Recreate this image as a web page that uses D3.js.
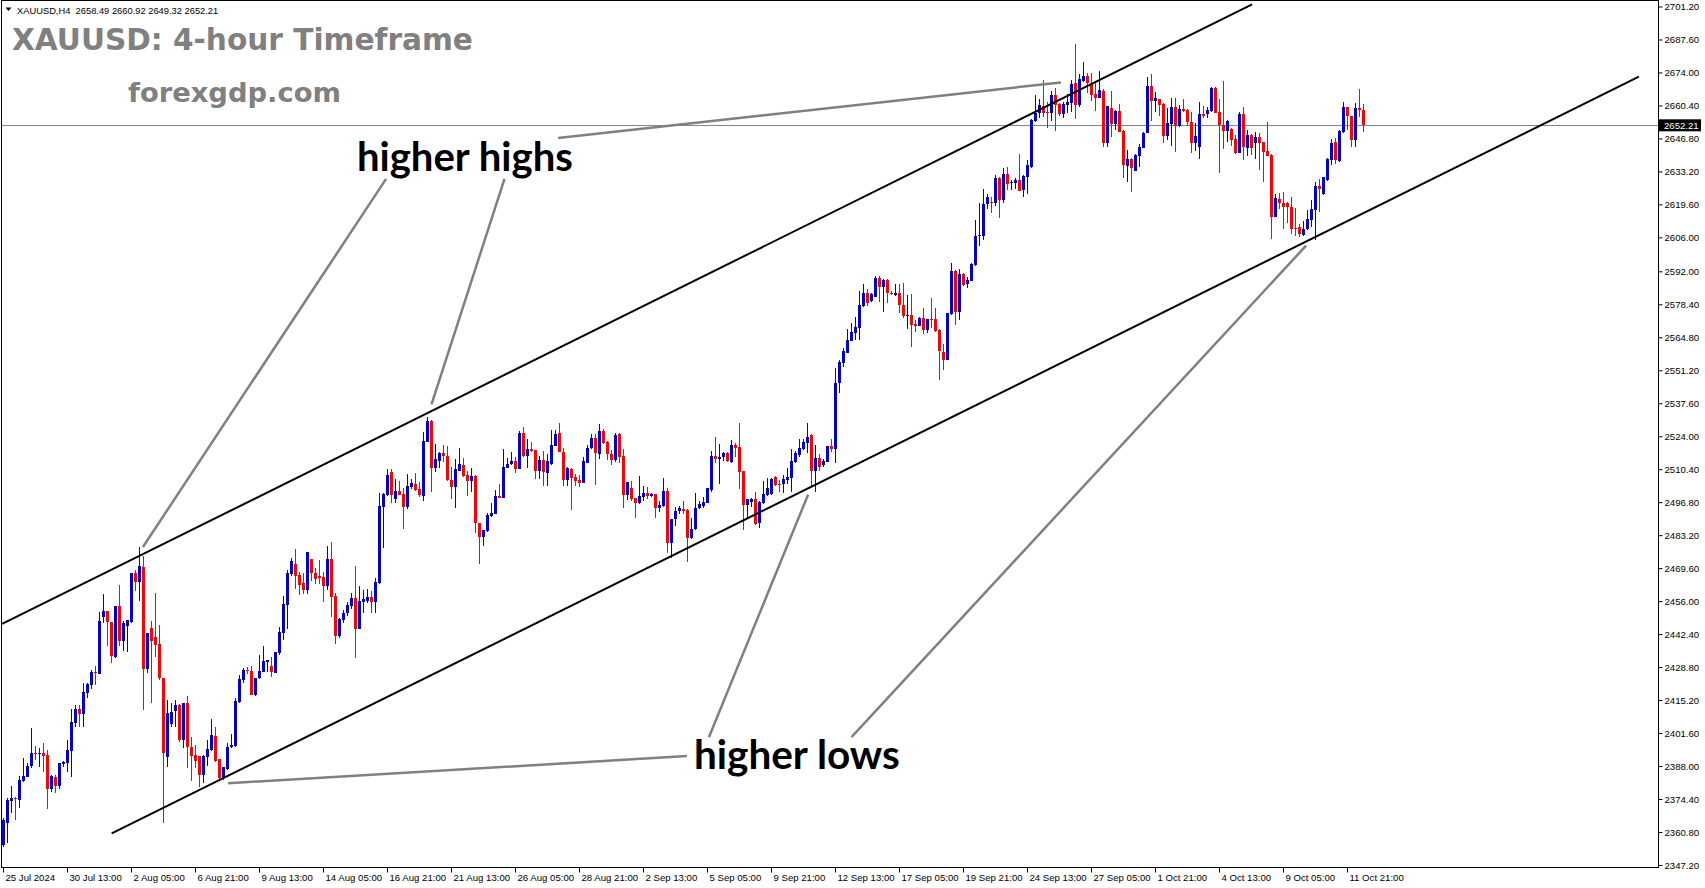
<!DOCTYPE html>
<html><head><meta charset="utf-8">
<script src="https://cdn.jsdelivr.net/npm/d3@7"></script>
<style>
html,body{margin:0;padding:0;background:#fff;overflow:hidden}
svg{display:block}
</style></head><body>
<svg id="chart" width="1705" height="888"></svg>
<script>
// ---------------- DATA ----------------
const symbolInfo = "XAUUSD,H4\u00a0\u00a02658.49 2660.92 2649.32 2652.21";
const titleText = "XAUUSD: 4-hour Timeframe";
const siteText = "forexgdp.com";

const opens = [
2355.4,2364.4,2373.7,2374.9,2374.0,2382.0,2383.3,2388.0,2393.5,2393.0,
2393.2,2392.5,2378.7,2383.6,2379.8,2388.7,2389.4,2394.0,2405.9,2411.4,
2409.4,2418.0,2421.4,2426.6,2425.9,2449.3,2452.1,2447.5,2432.8,2454.0,
2439.7,2445.7,2447.5,2467.5,2464.0,2470.2,2428.1,2445.0,2441.3,2438.3,
2424.4,2391.9,2405.3,2410.8,2413.2,2398.7,2414.0,2396.0,2392.4,2392.1,
2384.3,2391.9,2394.6,2400.4,2390.7,2382.9,2386.6,2395.7,2396.3,2414.5,
2423.5,2427.6,2427.3,2417.3,2424.1,2426.9,2431.0,2429.2,2426.5,2434.5,
2443.0,2454.4,2467.0,2471.3,2466.8,2463.6,2460.6,2473.4,2467.7,2466.4,
2466.1,2462.4,2473.4,2458.1,2441.6,2448.2,2451.0,2454.0,2457.1,2444.5,
2455.8,2456.2,2457.8,2455.8,2463.3,2495.0,2499.8,2509.4,2498.1,2501.4,
2500.2,2494.7,2502.9,2504.2,2502.2,2499.5,2521.8,2530.4,2510.8,2513.8,
2517.2,2515.8,2505.9,2503.2,2509.8,2512.1,2508.0,2505.7,2507.6,2488.1,
2482.6,2485.0,2491.1,2491.9,2499.3,2498.4,2511.0,2512.4,2513.8,2510.5,
2525.5,2515.8,2518.7,2518.3,2509.8,2514.2,2509.0,2512.4,2520.1,2525.2,
2517.6,2505.9,2510.5,2507.0,2505.9,2504.8,2513.1,2519.0,2523.1,2516.7,
2526.3,2521.5,2516.7,2514.2,2525.0,2515.8,2499.7,2502.5,2498.7,2496.6,
2499.1,2500.4,2499.5,2500.2,2494.3,2495.4,2501.4,2480.1,2489.7,2493.3,
2494.1,2493.6,2481.9,2485.6,2494.3,2495.2,2496.6,2501.8,2515.8,2514.6,
2515.3,2516.9,2513.5,2520.4,2519.4,2509.8,2495.6,2497.0,2498.0,2488.1,
2496.3,2499.7,2500.2,2507.3,2504.3,2504.2,2505.9,2506.6,2513.5,2516.2,
2518.6,2521.1,2524.5,2509.8,2515.1,2512.1,2513.5,2520.0,2518.7,2545.8,
2554.3,2558.5,2563.4,2566.7,2568.8,2577.8,2583.2,2579.9,2581.5,2589.4,
2585.7,2588.4,2583.2,2582.2,2583.2,2578.0,2573.6,2574.0,2570.3,2569.6,
2572.9,2567.8,2572.3,2572.3,2567.8,2558.9,2555.4,2574.4,2592.1,2575.4,
2590.9,2586.8,2588.2,2594.6,2606.6,2606.6,2619.6,2620.7,2620.3,2630.6,
2621.4,2632.0,2628.3,2628.6,2629.7,2625.5,2631.0,2635.2,2654.1,2657.4,
2660.3,2657.8,2657.1,2664.7,2661.0,2656.9,2660.6,2661.5,2669.5,2660.6,
2670.6,2672.5,2669.8,2665.1,2663.6,2666.5,2645.1,2659.5,2652.8,2658.2,
2650.0,2635.6,2638.3,2633.5,2639.7,2643.0,2648.9,2668.4,2662.4,2662.9,
2661.0,2647.8,2652.8,2659.6,2652.1,2658.9,2658.5,2653.4,2645.1,2643.4,
2656.9,2656.7,2658.1,2667.7,2657.6,2652.3,2650.0,2650.6,2646.6,2640.9,
2656.9,2642.7,2648.2,2645.1,2647.3,2645.5,2641.6,2640.0,2614.5,2621.8,
2620.3,2620.0,2618.7,2610.0,2610.4,2607.0,2609.3,2613.2,2617.3,2627.3,
2623.9,2629.7,2637.9,2645.5,2637.6,2649.6,2659.9,2656.1,2646.2,2659.2,
2658.49];

const highs = [
2366.5,2374.7,2379.8,2375.4,2383.9,2391.2,2389.4,2403.5,2396.3,2395.6,
2397.4,2394.6,2384.3,2384.3,2389.4,2390.2,2398.7,2411.4,2413.2,2413.2,
2422.4,2422.1,2427.6,2429.4,2451.4,2458.9,2452.1,2447.5,2454.0,2462.6,
2447.8,2448.2,2467.5,2468.8,2478.5,2474.6,2442.7,2447.8,2459.5,2446.1,
2424.4,2415.2,2413.9,2415.2,2413.6,2414.0,2416.9,2400.1,2396.5,2392.1,
2392.4,2398.7,2407.4,2403.9,2390.7,2387.7,2397.4,2401.1,2415.9,2425.5,
2428.3,2429.0,2429.4,2424.4,2433.8,2437.5,2431.7,2433.1,2435.1,2445.5,
2458.1,2468.8,2473.9,2477.5,2467.9,2467.5,2476.1,2473.4,2469.8,2473.0,
2468.1,2478.9,2480.2,2459.2,2448.9,2452.3,2455.8,2459.5,2470.5,2462.4,
2460.6,2460.9,2460.3,2465.4,2500.7,2500.4,2510.3,2510.3,2506.4,2505.7,
2502.5,2508.3,2506.2,2508.7,2505.3,2525.9,2532.1,2530.7,2520.7,2517.6,
2520.4,2520.1,2511.4,2514.6,2519.3,2514.9,2509.8,2510.8,2508.0,2488.1,
2485.3,2492.5,2496.3,2501.8,2504.3,2518.7,2515.2,2517.4,2515.6,2526.2,
2527.7,2522.7,2521.8,2518.3,2515.8,2517.9,2516.7,2526.6,2526.6,2529.6,
2519.3,2511.4,2510.8,2508.3,2508.0,2515.6,2520.4,2524.9,2524.8,2529.0,
2526.8,2522.0,2518.3,2525.2,2525.2,2518.7,2505.3,2505.7,2498.7,2507.6,
2503.5,2503.2,2500.7,2500.2,2497.4,2506.6,2502.5,2489.9,2494.9,2495.2,
2497.4,2494.0,2490.1,2500.4,2497.4,2498.8,2502.8,2517.9,2523.8,2520.8,
2517.6,2517.6,2522.4,2521.3,2529.3,2509.8,2498.1,2498.7,2500.9,2497.4,
2505.7,2506.6,2506.6,2507.7,2505.9,2508.0,2510.7,2518.6,2517.9,2522.8,
2522.8,2529.3,2524.9,2520.4,2516.5,2514.5,2520.1,2522.8,2552.3,2555.4,
2560.2,2568.2,2570.8,2573.0,2583.9,2586.6,2584.6,2582.9,2590.2,2590.2,
2588.7,2588.7,2583.9,2586.6,2586.8,2587.3,2582.2,2582.6,2571.9,2573.0,
2577.0,2572.3,2581.1,2577.0,2568.1,2562.0,2574.9,2595.6,2592.5,2593.0,
2591.2,2589.8,2595.6,2613.2,2620.0,2625.9,2623.9,2622.8,2631.7,2631.0,
2634.7,2635.2,2629.7,2630.3,2640.4,2631.7,2637.9,2654.8,2664.7,2663.1,
2670.9,2662.0,2666.4,2667.7,2661.3,2661.7,2665.0,2670.9,2685.7,2673.4,
2678.2,2673.6,2673.9,2669.5,2674.6,2667.2,2660.2,2666.4,2658.5,2661.0,
2650.3,2642.0,2638.9,2640.2,2644.4,2649.6,2672.3,2673.2,2666.1,2663.1,
2661.3,2659.2,2663.3,2663.3,2660.6,2663.1,2658.9,2657.8,2653.0,2662.0,
2660.2,2659.9,2668.1,2668.1,2663.1,2670.6,2654.4,2651.0,2648.2,2657.8,
2659.9,2650.3,2648.5,2649.6,2649.2,2645.5,2653.7,2640.2,2623.9,2624.4,
2624.8,2620.4,2622.8,2618.2,2611.5,2612.8,2617.3,2621.4,2628.7,2630.1,
2631.0,2638.6,2646.6,2647.1,2650.3,2662.0,2659.9,2656.1,2661.3,2667.0,
2660.92];

const lows = [
2354.7,2356.1,2368.8,2365.7,2370.5,2381.5,2383.3,2387.0,2390.5,2387.5,
2385.7,2370.1,2377.4,2376.7,2378.7,2387.7,2385.7,2383.6,2404.2,2404.2,
2404.2,2415.9,2419.6,2421.4,2425.9,2447.1,2437.5,2430.6,2432.4,2437.5,
2435.4,2435.1,2447.1,2460.3,2456.2,2411.1,2426.2,2414.1,2432.8,2423.5,
2364.6,2387.5,2404.2,2404.2,2398.0,2395.3,2387.0,2382.0,2387.0,2379.5,
2380.9,2388.0,2394.3,2389.8,2382.5,2382.2,2386.4,2395.6,2396.0,2414.1,
2422.1,2425.9,2417.3,2416.9,2423.9,2426.6,2426.8,2424.8,2426.2,2433.8,
2440.0,2444.5,2466.4,2461.0,2458.5,2458.8,2458.9,2464.4,2463.1,2463.1,
2455.8,2460.6,2449.6,2438.3,2440.7,2446.8,2449.9,2452.6,2432.4,2444.4,
2451.0,2455.4,2451.0,2451.2,2463.1,2477.8,2499.3,2496.6,2496.6,2499.8,
2485.7,2493.8,2502.2,2501.6,2498.8,2497.4,2521.5,2501.1,2509.4,2510.8,
2513.5,2505.7,2498.1,2494.3,2509.8,2507.3,2499.5,2501.1,2484.0,2471.2,
2478.9,2484.6,2490.8,2491.9,2498.4,2498.4,2510.8,2512.1,2509.0,2510.3,
2515.6,2510.8,2517.6,2506.4,2506.4,2503.6,2503.6,2512.1,2520.1,2517.4,
2503.6,2503.6,2493.6,2503.5,2503.2,2504.6,2512.8,2518.6,2503.9,2514.6,
2520.8,2514.2,2512.1,2513.5,2513.1,2494.3,2497.7,2497.3,2490.4,2496.0,
2497.4,2498.0,2498.8,2490.1,2492.6,2494.9,2475.7,2473.6,2487.1,2491.9,
2491.9,2472.3,2481.5,2485.3,2493.8,2494.3,2496.3,2501.1,2513.1,2504.2,
2513.9,2513.5,2513.1,2515.3,2502.1,2485.3,2490.1,2494.9,2487.4,2486.0,
2496.0,2499.5,2499.7,2503.6,2501.1,2500.4,2504.3,2501.1,2513.1,2515.6,
2518.3,2516.9,2503.5,2501.1,2509.8,2511.4,2513.2,2517.6,2513.1,2541.9,
2552.4,2558.2,2563.4,2563.7,2563.7,2577.4,2577.8,2579.5,2581.5,2579.5,
2575.4,2579.1,2582.2,2582.0,2574.7,2572.6,2568.4,2560.9,2567.1,2569.5,
2566.2,2566.7,2568.5,2567.1,2547.2,2551.3,2555.4,2574.0,2569.9,2571.9,
2586.0,2585.0,2588.2,2594.2,2602.6,2604.9,2617.7,2616.2,2619.1,2614.1,
2620.0,2625.5,2625.5,2625.8,2625.3,2622.8,2623.7,2634.7,2653.7,2655.1,
2655.8,2651.2,2654.1,2650.0,2656.2,2655.4,2657.1,2657.8,2654.8,2659.9,
2670.2,2665.4,2662.4,2658.2,2663.3,2643.4,2643.4,2647.5,2650.3,2649.3,
2630.6,2629.0,2624.8,2633.5,2634.9,2642.7,2648.9,2654.1,2657.8,2656.0,
2644.8,2646.2,2643.7,2641.3,2651.6,2657.8,2652.1,2640.9,2641.8,2638.2,
2655.1,2655.1,2657.8,2657.2,2632.4,2642.3,2645.5,2643.7,2640.2,2640.7,
2637.9,2639.6,2640.0,2638.2,2633.8,2628.7,2639.6,2605.2,2614.5,2617.6,
2609.3,2611.8,2607.4,2606.7,2606.0,2606.6,2609.0,2610.4,2604.9,2616.6,
2623.6,2629.4,2635.8,2636.3,2637.2,2649.2,2650.3,2643.4,2643.4,2655.8,
2649.32];

const closes = [
2365.7,2374.0,2374.9,2374.3,2382.2,2383.9,2388.0,2393.5,2393.0,2393.4,
2392.1,2378.7,2383.9,2379.8,2389.1,2389.7,2394.6,2406.3,2411.5,2409.3,
2418.4,2421.7,2426.6,2426.2,2447.8,2452.1,2447.2,2433.5,2454.0,2439.7,
2447.1,2448.2,2467.5,2464.0,2470.5,2428.1,2442.7,2439.7,2437.9,2424.4,
2393.5,2410.0,2410.1,2413.2,2398.7,2414.0,2396.0,2392.1,2390.2,2384.3,
2392.1,2394.9,2400.8,2390.2,2382.9,2387.5,2395.7,2396.5,2414.8,2423.7,
2427.6,2427.2,2417.3,2424.4,2427.3,2431.3,2431.7,2426.6,2435.1,2443.4,
2454.8,2467.7,2472.5,2466.5,2462.6,2460.6,2476.1,2467.7,2465.1,2465.7,
2462.4,2473.4,2457.8,2441.8,2448.5,2451.0,2454.4,2457.1,2444.5,2456.0,
2456.9,2457.6,2455.8,2464.0,2495.2,2500.0,2508.0,2499.8,2501.4,2499.8,
2495.0,2503.5,2504.6,2501.8,2499.8,2522.0,2530.3,2510.8,2514.6,2517.2,
2515.8,2505.9,2503.2,2510.3,2512.4,2507.6,2505.7,2507.6,2488.3,2482.6,
2485.3,2491.5,2492.5,2499.3,2498.7,2511.2,2512.5,2513.8,2510.5,2525.5,
2515.8,2518.7,2518.0,2509.8,2514.2,2509.1,2513.9,2520.4,2524.9,2517.6,
2505.9,2510.8,2506.9,2505.7,2504.8,2513.8,2519.0,2523.1,2516.9,2526.3,
2521.1,2516.7,2514.2,2524.5,2515.6,2499.7,2505.0,2498.0,2496.6,2499.3,
2500.4,2499.3,2500.2,2494.3,2495.6,2501.4,2480.1,2489.9,2493.3,2494.3,
2493.3,2481.9,2485.7,2494.3,2496.0,2496.7,2502.5,2515.8,2514.6,2515.6,
2517.2,2513.8,2520.4,2519.3,2509.4,2495.6,2498.1,2498.1,2487.8,2496.7,
2500.2,2502.5,2506.3,2503.9,2503.9,2506.3,2507.0,2513.8,2517.2,2519.0,
2521.7,2523.8,2509.8,2515.1,2511.4,2513.8,2520.0,2518.7,2546.1,2554.7,
2559.3,2563.7,2567.1,2569.2,2578.1,2583.2,2578.8,2582.5,2589.4,2585.7,
2588.4,2582.9,2582.5,2583.2,2578.0,2573.6,2574.0,2569.9,2569.5,2572.9,
2567.8,2572.3,2571.9,2567.5,2559.1,2555.4,2574.9,2592.1,2575.4,2590.9,
2586.4,2588.4,2595.0,2606.6,2607.0,2619.8,2622.5,2620.3,2630.6,2621.4,
2632.0,2628.0,2629.0,2629.7,2625.3,2631.3,2635.8,2654.4,2657.4,2660.6,
2657.4,2657.1,2664.7,2660.6,2656.9,2661.0,2662.0,2669.2,2660.6,2671.3,
2672.5,2669.5,2664.7,2663.6,2666.8,2645.1,2660.2,2652.8,2658.2,2649.6,
2635.8,2638.3,2634.7,2640.0,2643.4,2649.2,2668.4,2662.4,2663.6,2660.6,
2647.8,2653.3,2659.6,2652.1,2658.9,2658.2,2653.4,2645.1,2647.8,2656.9,
2656.2,2658.5,2667.7,2657.4,2652.3,2650.0,2654.1,2646.2,2640.9,2656.9,
2643.1,2648.2,2642.7,2647.3,2645.1,2641.3,2639.7,2614.5,2622.1,2620.0,
2618.4,2618.4,2609.5,2609.5,2607.4,2609.5,2613.6,2617.7,2627.3,2625.9,
2630.8,2638.3,2645.1,2637.9,2649.9,2659.9,2656.1,2646.2,2659.2,2658.5,
2652.21];

const timeLabels = ["25 Jul 2024","30 Jul 13:00","2 Aug 05:00","6 Aug 21:00","9 Aug 13:00",
  "14 Aug 05:00","16 Aug 21:00","21 Aug 13:00","26 Aug 05:00","28 Aug 21:00","2 Sep 13:00",
  "5 Sep 05:00","9 Sep 21:00","12 Sep 13:00","17 Sep 05:00","19 Sep 21:00","24 Sep 13:00",
  "27 Sep 05:00","1 Oct 21:00","4 Oct 13:00","9 Oct 05:00","11 Oct 21:00"];
const barsPerTimeLabel = 16;

const priceTicks = [2701.2,2687.6,2674.0,2660.4,2646.8,2633.2,2619.6,2606.0,2592.0,2578.4,
  2564.8,2551.2,2537.6,2524.0,2510.4,2496.8,2483.2,2469.6,2456.0,2442.4,2428.8,2415.2,
  2401.6,2388.0,2374.4,2360.8,2347.2];
const lastPrice = 2652.21;

// channel lines: [bar index, price]
const upperChannel = [[-0.3, 2446.6], [312.2, 2702.1]];
const lowerChannel = [[27.1, 2360.2], [408.9, 2672.3]];
// annotations: [bar index, price]
const highsLabel = {text: "higher highs", bar: 115.4, price: 2633.4};
const lowsLabel  = {text: "higher lows",  bar: 198.4, price: 2386.7};
const highsPointers = [
  [[95.7, 2630.1], [34.9, 2478.3]],
  [[125.3, 2630.1], [107.05, 2537.1]],
  [[138.7, 2647.0], [264.4, 2669.9]]];
const lowsPointers = [
  [[170.9, 2392.1], [56.2, 2380.9]],
  [[176.4, 2399.9], [201.2, 2499.9]],
  [[212.05, 2399.9], [325.7, 2602.6]]];

// ---------------- DRAW ----------------
const W = 1705, H = 888;
const plot = {left: 1.5, top: 0.5, right: 1658, bottom: 867};
const bullColor = "#0000d0", bearColor = "#ff0000";
const svg = d3.select("#chart");

const x = d3.scaleLinear().domain([0, opens.length - 1]).range([3.3, 3.3 + 4 * (opens.length - 1)]);
const y = d3.scaleLinear().domain([2346.36, 2703.47]).range([plot.bottom, 1]);

svg.append("rect").attr("width", W).attr("height", H).attr("fill", "#fff");

svg.append("defs").append("clipPath").attr("id", "clip")
  .append("rect").attr("x", plot.left).attr("y", plot.top)
  .attr("width", plot.right - plot.left).attr("height", plot.bottom - plot.top);

const g = svg.append("g").attr("clip-path", "url(#clip)");

// bid line
const yl = Math.round(y(lastPrice)) + 0.5;
g.append("line").attr("x1", plot.left).attr("x2", plot.right).attr("y1", yl).attr("y2", yl)
  .attr("stroke", "#778899").attr("stroke-width", 1);

// candles
const bars = d3.range(opens.length).map(i => ({i, o: opens[i], h: highs[i], l: lows[i], c: closes[i]}));
const cg = g.append("g");
const candle = cg.selectAll("g.c").data(bars).join("g").attr("class", "c")
  .attr("fill", d => d.c >= d.o ? bullColor : bearColor);
candle.append("rect")
  .attr("x", d => Math.round(x(d.i)))
  .attr("width", 1)
  .attr("y", d => Math.round(y(d.h)))
  .attr("height", d => Math.max(1, Math.round(y(d.l)) - Math.round(y(d.h))));
candle.append("rect")
  .attr("x", d => Math.round(x(d.i)) - 1)
  .attr("width", 3)
  .attr("y", d => Math.round(y(Math.max(d.o, d.c))))
  .attr("height", d => Math.max(1, Math.round(y(Math.min(d.o, d.c))) - Math.round(y(Math.max(d.o, d.c)))));

// channel lines
const line = d3.line().x(d => x(d[0])).y(d => y(d[1]));
[upperChannel, lowerChannel].forEach(seg => {
  g.append("path").attr("d", line(seg)).attr("fill", "none")
    .attr("stroke", "#000").attr("stroke-width", 2);
});

// pointer lines
[...highsPointers, ...lowsPointers].forEach(seg => {
  g.append("path").attr("d", line(seg)).attr("fill", "none")
    .attr("stroke", "#808080").attr("stroke-width", 2.5);
});

function fitWidth(sel, target) {
  const fs = parseFloat(sel.attr("font-size"));
  const w = sel.node().getComputedTextLength();
  if (w > 0) sel.attr("font-size", (fs * target / w).toFixed(2));
}

// annotation labels
[[highsLabel, 216], [lowsLabel, 206]].forEach(([lab, w]) => {
  const t = g.append("text").attr("x", x(lab.bar)).attr("y", y(lab.price))
    .attr("text-anchor", "middle").attr("font-family", "Lato, 'Noto Sans', sans-serif")
    .attr("font-weight", 700).attr("font-size", 38).attr("fill", "#000").text(lab.text);
  fitWidth(t, w);
});

// title texts
const tt = svg.append("text").attr("x", 12).attr("y", 50)
  .attr("font-family", "'DejaVu Sans', sans-serif").attr("font-weight", 700)
  .attr("font-size", 29).attr("fill", "#808080").text(titleText);
fitWidth(tt, 461);
const st = svg.append("text").attr("x", 128).attr("y", 102)
  .attr("font-family", "'DejaVu Sans', sans-serif").attr("font-weight", 700)
  .attr("font-size", 28).attr("fill", "#808080").text(siteText);
fitWidth(st, 213);

// header
svg.append("path").attr("d", "M5.5,7.5 L11.5,7.5 L8.5,11 Z").attr("fill", "#000");
const ht = svg.append("text").attr("x", 17).attr("y", 13.5)
  .attr("font-family", "'Liberation Sans', Arial, sans-serif")
  .attr("font-size", 9.2).attr("fill", "#000").text(symbolInfo);
fitWidth(ht, 201);

// frame
svg.append("rect").attr("x", plot.left).attr("y", plot.top)
  .attr("width", plot.right + 0.5 - plot.left).attr("height", plot.bottom + 0.5 - plot.top)
  .attr("fill", "none").attr("stroke", "#000").attr("stroke-width", 1);

// right price axis
const yAxis = d3.axisRight(y).tickValues(priceTicks).tickSize(4).tickPadding(2)
  .tickFormat(d3.format(".2f"));
const ya = svg.append("g").attr("transform", `translate(${plot.right + 0.5},0)`).call(yAxis);
ya.select(".domain").remove();
ya.selectAll("text").attr("font-family", "'Liberation Sans', Arial, sans-serif")
  .attr("font-size", 9.6).attr("fill", "#000");
ya.selectAll("line").attr("stroke", "#000");

// bottom time axis
const xAxis = d3.axisBottom(x)
  .tickValues(timeLabels.map((_, k) => k * barsPerTimeLabel))
  .tickFormat((d, k) => timeLabels[k]).tickSize(5).tickPadding(2);
const xa = svg.append("g").attr("transform", `translate(0,${plot.bottom + 0.5})`).call(xAxis);
xa.select(".domain").remove();
xa.selectAll(".tick").attr("transform", d => `translate(${Math.round(x(d)) + 0.5},0)`);
xa.selectAll("line").attr("stroke", "#000");
xa.selectAll("text").attr("text-anchor", "start").attr("x", 2)
  .attr("font-family", "'Liberation Sans', Arial, sans-serif")
  .attr("font-size", 9.6).attr("fill", "#000");

// last price tag
const tag = svg.append("g").attr("transform", `translate(${plot.right + 1},${y(lastPrice)})`);
tag.append("rect").attr("x", 0).attr("y", -6).attr("width", 42).attr("height", 12).attr("fill", "#000");
tag.append("text").attr("x", 5).attr("y", 0).attr("dy", "0.35em")
  .attr("font-family", "'Liberation Sans', Arial, sans-serif").attr("font-size", 9.6)
  .attr("fill", "#fff").text(d3.format(".2f")(lastPrice));
</script>
</body></html>
